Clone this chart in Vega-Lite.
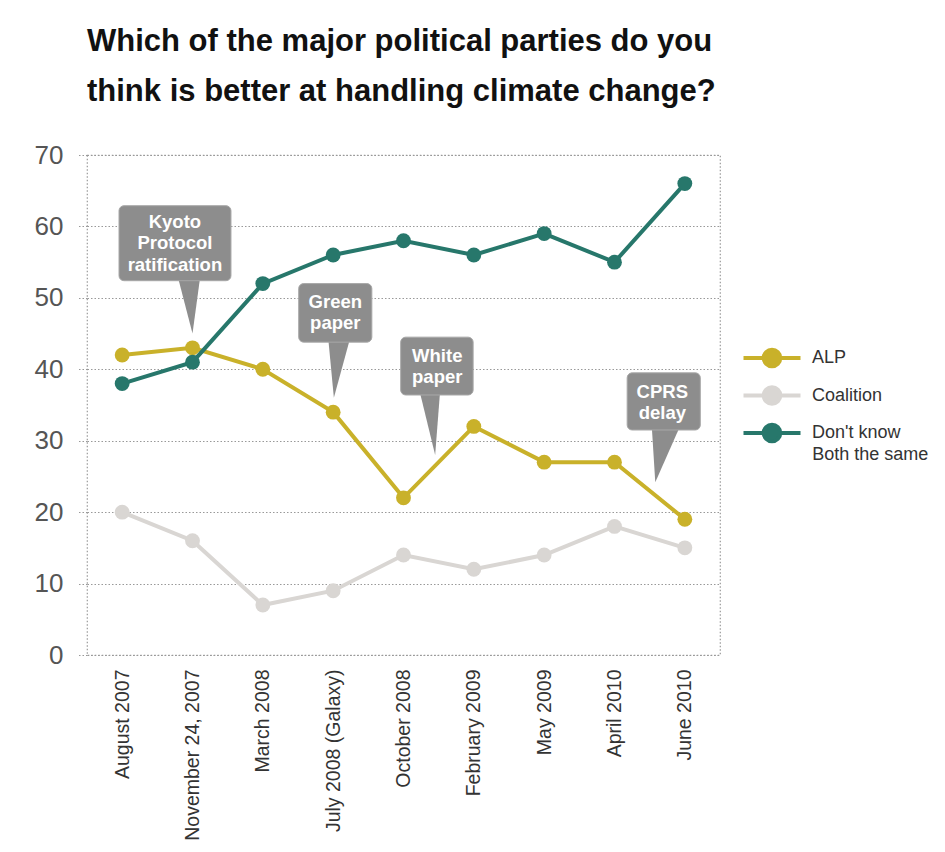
{
  "$schema": "https://vega.github.io/schema/vega-lite/v6.json",
  "width": 633,
  "height": 500,
  "autosize": {"type": "none"},
  "padding": {"left": 87, "top": 155, "right": 225, "bottom": 197},
  "background": "white",
  "title": {
    "text": ["Which of the major political parties do you", "think is better at handling climate change?"],
    "anchor": "start",
    "frame": "group",
    "font": "Liberation Sans",
    "fontSize": 31,
    "fontWeight": "bold",
    "color": "#111111",
    "lineHeight": 50,
    "offset": 34
  },
  "datasets": {
    "series": [
      {"date": "August 2007", "i": 0, "series": "ALP", "value": 42},
      {"date": "November 24, 2007", "i": 1, "series": "ALP", "value": 43},
      {"date": "March 2008", "i": 2, "series": "ALP", "value": 40},
      {"date": "July 2008 (Galaxy)", "i": 3, "series": "ALP", "value": 34},
      {"date": "October 2008", "i": 4, "series": "ALP", "value": 22},
      {"date": "February 2009", "i": 5, "series": "ALP", "value": 32},
      {"date": "May 2009", "i": 6, "series": "ALP", "value": 27},
      {"date": "April 2010", "i": 7, "series": "ALP", "value": 27},
      {"date": "June 2010", "i": 8, "series": "ALP", "value": 19},
      {"date": "August 2007", "i": 0, "series": "Coalition", "value": 20},
      {"date": "November 24, 2007", "i": 1, "series": "Coalition", "value": 16},
      {"date": "March 2008", "i": 2, "series": "Coalition", "value": 7},
      {"date": "July 2008 (Galaxy)", "i": 3, "series": "Coalition", "value": 9},
      {"date": "October 2008", "i": 4, "series": "Coalition", "value": 14},
      {"date": "February 2009", "i": 5, "series": "Coalition", "value": 12},
      {"date": "May 2009", "i": 6, "series": "Coalition", "value": 14},
      {"date": "April 2010", "i": 7, "series": "Coalition", "value": 18},
      {"date": "June 2010", "i": 8, "series": "Coalition", "value": 15},
      {"date": "August 2007", "i": 0, "series": "Don't know", "value": 38},
      {"date": "November 24, 2007", "i": 1, "series": "Don't know", "value": 41},
      {"date": "March 2008", "i": 2, "series": "Don't know", "value": 52},
      {"date": "July 2008 (Galaxy)", "i": 3, "series": "Don't know", "value": 56},
      {"date": "October 2008", "i": 4, "series": "Don't know", "value": 58},
      {"date": "February 2009", "i": 5, "series": "Don't know", "value": 56},
      {"date": "May 2009", "i": 6, "series": "Don't know", "value": 59},
      {"date": "April 2010", "i": 7, "series": "Don't know", "value": 55},
      {"date": "June 2010", "i": 8, "series": "Don't know", "value": 66}
    ],
    "notes": [
      {"text": "Both the same", "i": 9.81, "v": 28.0}
    ],
    "boxes": [
      {"name": "Kyoto", "x1": -0.045, "x2": 1.547, "y1": 62.9, "y2": 52.4},
      {"name": "Green", "x1": 2.51, "x2": 3.55, "y1": 52.0, "y2": 43.8},
      {"name": "White", "x1": 3.96, "x2": 4.99, "y1": 44.5, "y2": 36.4},
      {"name": "CPRS", "x1": 7.18, "x2": 8.22, "y1": 39.5, "y2": 31.5}
    ],
    "pointers": [
      {"name": "Kyoto", "i": 0.79, "top": 53.0, "bottom": 53.0},
      {"name": "Kyoto", "i": 1.0, "top": 53.0, "bottom": 45.0},
      {"name": "Kyoto", "i": 1.11, "top": 53.0, "bottom": 53.0},
      {"name": "Green", "i": 2.93, "top": 44.3, "bottom": 44.3},
      {"name": "Green", "i": 3.01, "top": 44.3, "bottom": 36.0},
      {"name": "Green", "i": 3.24, "top": 44.3, "bottom": 44.3},
      {"name": "White", "i": 4.23, "top": 36.9, "bottom": 36.9},
      {"name": "White", "i": 4.45, "top": 36.9, "bottom": 28.0},
      {"name": "White", "i": 4.52, "top": 36.9, "bottom": 36.9},
      {"name": "CPRS", "i": 7.53, "top": 32.0, "bottom": 32.0},
      {"name": "CPRS", "i": 7.58, "top": 32.0, "bottom": 24.2},
      {"name": "CPRS", "i": 7.93, "top": 32.0, "bottom": 32.0}
    ],
    "texts": [
      {"text": "Kyoto", "i": 0.75, "v": 60.6},
      {"text": "Protocol", "i": 0.75, "v": 57.7},
      {"text": "ratification", "i": 0.75, "v": 54.6},
      {"text": "Green", "i": 3.03, "v": 49.4},
      {"text": "paper", "i": 3.03, "v": 46.5},
      {"text": "White", "i": 4.48, "v": 41.9},
      {"text": "paper", "i": 4.48, "v": 38.9},
      {"text": "CPRS", "i": 7.68, "v": 36.8},
      {"text": "delay", "i": 7.68, "v": 33.9}
    ]
  },
  "layer": [
    {
      "data": {"name": "series"},
      "encoding": {
        "x": {
          "field": "i",
          "type": "quantitative",
          "scale": {"domain": [-0.5, 8.5], "nice": false, "zero": false},
          "axis": {
            "values": [0, 1, 2, 3, 4, 5, 6, 7, 8],
            "labelExpr": "['August 2007','November 24, 2007','March 2008','July 2008 (Galaxy)','October 2008','February 2009','May 2009','April 2010','June 2010'][datum.value]",
            "labelAngle": -90,
            "labelFontSize": 19.5,
            "labelColor": "#333333",
            "labelFont": "Liberation Sans",
            "labelPadding": 14,
            "labelOverlap": false,
            "domain": false,
            "ticks": false,
            "grid": false,
            "title": null
          }
        },
        "y": {
          "field": "value",
          "type": "quantitative",
          "scale": {"domain": [0, 70], "nice": false},
          "axis": {
            "values": [0, 10, 20, 30, 40, 50, 60, 70],
            "labelFontSize": 26,
            "labelColor": "#555555",
            "labelFont": "Liberation Sans",
            "labelPadding": 15,
            "domain": false,
            "ticks": true,
            "tickSize": 9,
            "tickColor": "#999999",
            "tickDash": [1.5, 2],
            "grid": true,
            "gridColor": "#999999",
            "gridDash": [1.5, 2],
            "gridWidth": 1.2,
            "title": null
          }
        },
        "color": {
          "field": "series",
          "type": "nominal",
          "scale": {"domain": ["ALP", "Coalition", "Don't know"], "range": ["#C9B12A", "#D9D6D3", "#27776B"]},
          "legend": {
            "title": null,
            "orient": "none",
            "legendX": 673,
            "legendY": 191,
            "symbolType": "M-2.85,0L2.85,0M0.83,0C0.83,0.456,0.456,0.83,0,0.83C-0.456,0.83,-0.83,0.456,-0.83,0C-0.83,-0.456,-0.456,-0.83,0,-0.83C0.456,-0.83,0.83,-0.456,0.83,0Z",
            "symbolSize": 400,
            "symbolStrokeWidth": 4,
            "labelFontSize": 18,
            "labelFont": "Liberation Sans",
            "labelColor": "#333333",
            "labelOffset": 28,
            "labelLimit": 300,
            "rowPadding": 3.5,
            "encode": {
              "symbols": {
                "update": {
                  "fill": {"scale": "color", "field": "value"},
                  "stroke": {"scale": "color", "field": "value"},
                  "opacity": {"value": 1}
                }
              }
            }
          }
        }
      },
      "layer": [
        {"mark": {"type": "line", "strokeWidth": 4}},
        {"mark": {"type": "point", "filled": true, "size": 220, "opacity": 1}}
      ]
    },
    {
      "data": {"name": "notes"},
      "mark": {"type": "text", "font": "Liberation Sans", "fontSize": 18, "color": "#333333", "align": "left", "baseline": "middle"},
      "encoding": {
        "x": {"field": "i", "type": "quantitative"},
        "y": {"field": "v", "type": "quantitative"},
        "text": {"field": "text"}
      }
    },
    {
      "data": {"name": "pointers"},
      "mark": {"type": "area", "fill": "#8D8D8D", "orient": "vertical"},
      "encoding": {
        "x": {"field": "i", "type": "quantitative"},
        "y": {"field": "top", "type": "quantitative"},
        "y2": {"field": "bottom"},
        "detail": {"field": "name", "type": "nominal"}
      }
    },
    {
      "data": {"name": "boxes"},
      "mark": {"type": "rect", "fill": "#8D8D8D", "stroke": "#A8A8A8", "strokeWidth": 1, "cornerRadius": 5},
      "encoding": {
        "x": {"field": "x1", "type": "quantitative"},
        "x2": {"field": "x2"},
        "y": {"field": "y1", "type": "quantitative"},
        "y2": {"field": "y2"}
      }
    },
    {
      "data": {"name": "texts"},
      "mark": {"type": "text", "font": "Liberation Sans", "fontSize": 18.5, "fontWeight": "bold", "color": "white", "align": "center", "baseline": "middle"},
      "encoding": {
        "x": {"field": "i", "type": "quantitative"},
        "y": {"field": "v", "type": "quantitative"},
        "text": {"field": "text"}
      }
    }
  ],
  "config": {
    "view": {"stroke": "#999999", "strokeDash": [1.5, 2], "strokeWidth": 1.2}
  }
}
